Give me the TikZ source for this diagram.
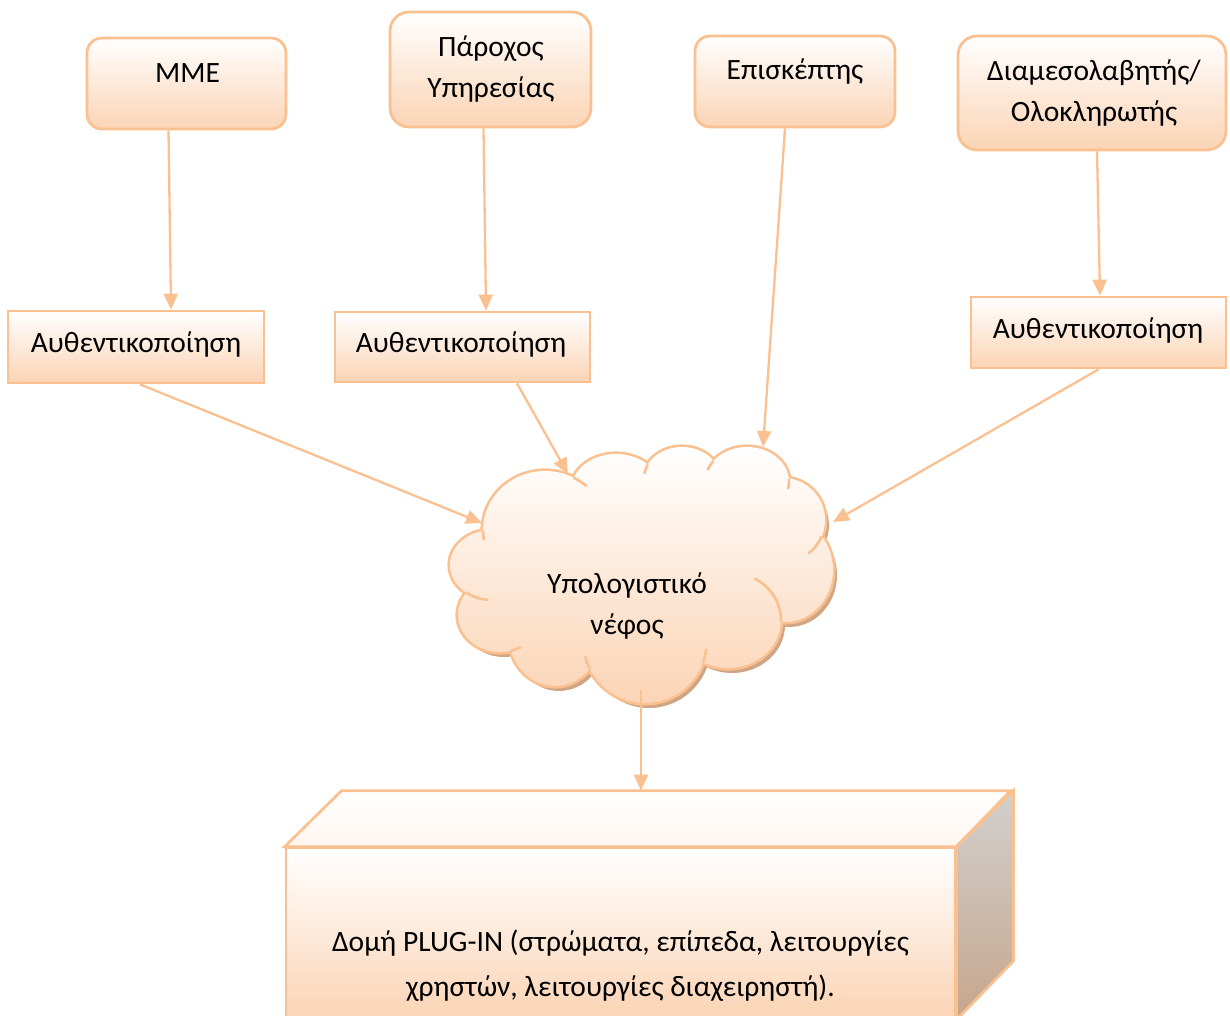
\documentclass[tikz,border=0pt]{standalone}
\usepackage{fontspec}
\setmainfont{Carlito}
\usetikzlibrary{arrows.meta,calc}

\definecolor{edge}{RGB}{250,192,143}
\definecolor{peach}{RGB}{251,212,181}
\definecolor{cloudshadow}{RGB}{208,165,132}
\definecolor{sidetop}{RGB}{210,208,206}
\definecolor{sidebot}{RGB}{198,166,140}
\definecolor{lidbot}{RGB}{254,246,240}

% two centred lines whose baseline is that of the first line
\newcommand\twolines[2]{\vtop{\halign{\hfil##\hfil\cr#1\cr#2\cr}}}

\begin{document}
\begin{tikzpicture}[x=1pt,y=-1pt,
  font=\fontsize{29.5}{41}\selectfont,
  card/.style={draw=edge, line width=2.75pt, top color=white, bottom color=peach,
               rounded corners=#1, inner sep=0pt},
  card/.default=15pt,
  flatcard/.style={draw=edge, line width=2.75pt, top color=white, bottom color=peach,
                   inner sep=0pt},
  txt/.style={anchor=base, inner sep=0pt, text=black},
  arr/.style={draw=edge, line width=2.3pt, -{Triangle[length=16pt,width=14pt]}},
  stub/.style={draw=edge, line width=2.6pt},
  % puffs of the cloud
  lobes/.style={insert path={
    (545,530) ellipse [x radius=62, y radius=59]
    (616,490) ellipse [x radius=45, y radius=36]
    (682,478) ellipse [x radius=38, y radius=31]
    (747,482) ellipse [x radius=42, y radius=35]
    (783,520) ellipse [x radius=42, y radius=42]
    (785,570) ellipse [x radius=48, y radius=52]
    (728,620) ellipse [x radius=53, y radius=48]
    (645,640) ellipse [x radius=62, y radius=63]
    (555,636) ellipse [x radius=46, y radius=50]
    (500,615) ellipse [x radius=42, y radius=37]
    (492,565) ellipse [x radius=42, y radius=35]}},
  % core joining the puff centres
  hub/.style={insert path={
    (545,530) -- (616,490) -- (682,478) -- (747,482) -- (783,520) -- (785,570)
    -- (728,620) -- (645,640) -- (555,636) -- (500,615) -- (492,565) -- cycle}},
]
\useasboundingbox (0,0) rectangle (1230,1016);

% ---------- top row ----------
\node[card, minimum width=199pt, minimum height=91pt] (mme) at (186.5,83.5) {};
\node[txt] at (187.5,82.5) {MME};

\node[card=19pt, minimum width=201pt, minimum height=115pt] (provider) at (490.5,69.5) {};
\node[txt] at (491,57) {\twolines{Πάροχος}{Υπηρεσίας}};

\node[card, minimum width=200pt, minimum height=91pt] (visitor) at (795,81.5) {};
\node[txt] at (795,80) {Επισκέπτης};

\node[card=19pt, minimum width=268pt, minimum height=114pt] (broker) at (1092,93) {};
\node[txt] at (1094,81) {\twolines{Διαμεσολαβητής/}{Ολοκληρωτής}};

% ---------- authentication ----------
\node[flatcard, minimum width=256pt, minimum height=72pt] (auth1) at (136,347) {};
\node[txt] at (136,352) {Αυθεντικοποίηση};

\node[flatcard, minimum width=255pt, minimum height=70pt] (auth2) at (462.5,347) {};
\node[txt] at (461,352) {Αυθεντικοποίηση};

\node[flatcard, minimum width=255pt, minimum height=71pt] (auth3) at (1098.5,332.5) {};
\node[txt] at (1098,338) {Αυθεντικοποίηση};

% ---------- cloud ----------
\begin{scope}[shift={(4,5)}]
  \fill[cloudshadow] (545,530) [lobes] [hub];
\end{scope}
\draw[edge, line width=5.2pt] (545,530) [lobes];
\shade[top color=white, bottom color=peach] (545,530) [lobes] [hub];
\draw[stub] (545,530) ++(179:62 and 59) arc[start angle=179, end angle=170, x radius=62, y radius=59];
\draw[stub] (545,530) ++(-62.5:62 and 59) arc[start angle=-62.5, end angle=-48, x radius=62, y radius=59];
\draw[stub] (682,478) ++(206:38 and 31) arc[start angle=206, end angle=188, x radius=38, y radius=31];
\draw[stub] (747,482) ++(217:42 and 35) arc[start angle=217, end angle=200, x radius=42, y radius=35];
\draw[stub] (747,482) ++(-5:42 and 35) arc[start angle=-5, end angle=12, x radius=42, y radius=35];
\draw[stub] (783,520) ++(23:42 and 42) arc[start angle=23, end angle=53, x radius=42, y radius=42];
\draw[stub] (728,620) ++(-60:53 and 48) arc[start angle=-60, end angle=2.5, x radius=53, y radius=48];
\draw[stub] (645,640) ++(21:62 and 63) arc[start angle=21, end angle=8, x radius=62, y radius=63];
\draw[stub] (645,640) ++(153:62 and 63) arc[start angle=153, end angle=165, x radius=62, y radius=63];
\draw[stub] (500,615) ++(75:42 and 37) arc[start angle=75, end angle=60, x radius=42, y radius=37];
\draw[stub] (492,565) ++(128:42 and 35) arc[start angle=128, end angle=95, x radius=42, y radius=35];
\node[txt] at (627,593) {\twolines{Υπολογιστικό}{νέφος}};

\coordinate (cloudW)  at (482,523);
\coordinate (cloudNW) at (568,474);
\coordinate (cloudN)  at (763,447);
\coordinate (cloudE)  at (833,522);
\coordinate (cloudS)  at (641,690);

% ---------- PLUG-IN block ----------
\node[flatcard, minimum width=669pt, minimum height=170.5pt] (plug) at (620.5,933.25) {};
\filldraw[draw=edge, line width=2.75pt, top color=white, bottom color=lidbot]
  (plug.north west) -- ++(57,-56) -- ++(669,0) -- (plug.north east) -- cycle;
\filldraw[draw=edge, line width=2.75pt, top color=sidetop, bottom color=sidebot]
  (plug.north east) -- ++(57,-56) -- ++(0,170.5) -- (plug.south east) -- cycle;
\node[txt] at (620.5,951.5)
  {\fontsize{29.5}{45}\selectfont\twolines{Δομή PLUG-IN (στρώματα, επίπεδα, λειτουργίες}{χρηστών, λειτουργίες διαχειρηστή).}};

% ---------- connectors ----------
\draw[arr] ($(mme.south)+(-18,0)$) -- ($(auth1.north)+(35,0)$);
\draw[arr] ($(provider.south)+(-7,0)$) -- ($(auth2.north)+(23.5,0)$);
\draw[arr] ($(visitor.south)+(-10,0)$) -- (cloudN);
\draw[arr] ($(broker.south)+(5,0)$) -- ($(auth3.north)+(1.5,0)$);
\draw[arr] ($(auth1.south)+(4,0)$) -- (cloudW);
\draw[arr] ($(auth2.south)+(54.5,0)$) -- (cloudNW);
\draw[arr] (auth3.south) -- (cloudE);
\draw[arr] (cloudS) -- ($(plug.north)+(20.5,-56)$);
\end{tikzpicture}
\end{document}
